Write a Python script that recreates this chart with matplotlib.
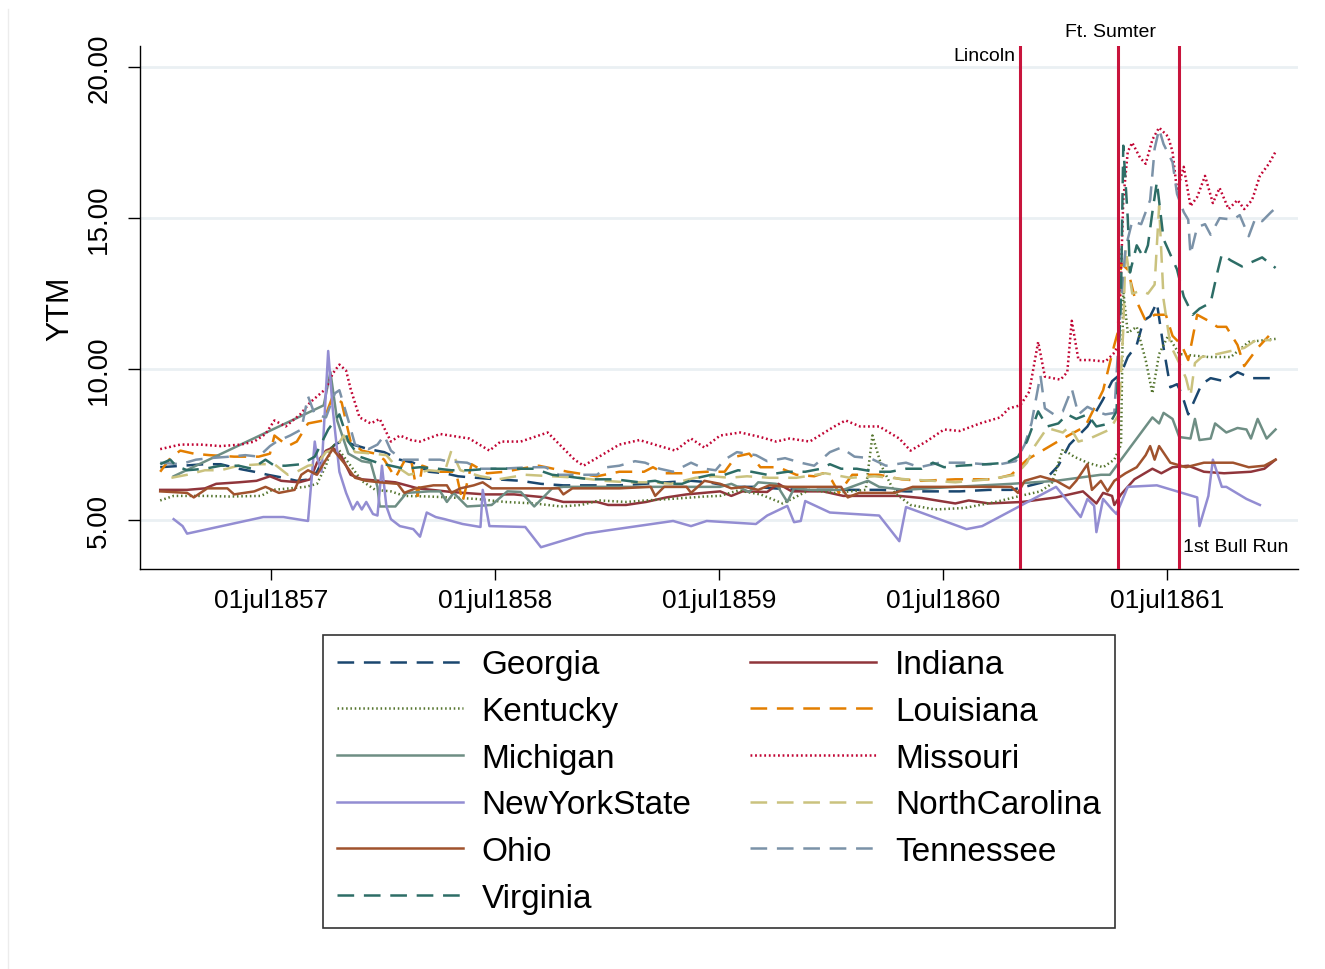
import matplotlib
matplotlib.use('Agg')
import matplotlib.pyplot as plt
from matplotlib.lines import Line2D

plt.rcParams['font.family'] = ['Liberation Sans', 'DejaVu Sans']
plt.rcParams['lines.scale_dashes'] = False

# dates as decimal years, YTM values
georgia_t = [1857.00, 1857.10, 1857.20, 1857.27, 1857.35, 1857.42, 1857.48, 1857.55, 1857.61, 1857.67,
             1857.70, 1857.74, 1857.78, 1857.82, 1857.86, 1857.93, 1858.00, 1858.07, 1858.13, 1858.20,
             1858.27, 1858.33, 1858.41, 1858.50, 1858.61, 1858.70, 1858.80, 1858.93, 1859.05, 1859.16,
             1859.26, 1859.37, 1859.45, 1859.55, 1859.65, 1859.74, 1859.85, 1859.97, 1860.10, 1860.22,
             1860.33, 1860.45, 1860.57, 1860.70, 1860.80, 1860.86, 1860.94, 1861.01, 1861.06, 1861.14,
             1861.21, 1861.25, 1861.29, 1861.32, 1861.36, 1861.39, 1861.42, 1861.45, 1861.48, 1861.51,
             1861.54, 1861.56, 1861.59, 1861.62, 1861.65, 1861.69, 1861.75, 1861.81, 1861.87, 1861.98]
georgia_y = [6.75, 6.8, 6.85, 6.85, 6.7, 6.6, 6.5, 6.4, 6.3, 6.35,
             6.6, 7.2, 7.5, 7.65, 7.5, 7.35, 7.25, 7.0, 6.9, 6.6,
             6.55, 6.45, 6.4, 6.35, 6.3, 6.2, 6.15, 6.15, 6.15, 6.2,
             6.25, 6.3, 6.25, 6.1, 6.1, 6.05, 6.0, 6.0, 6.0, 6.0,
             5.95, 5.95, 5.95, 6.0, 6.0, 6.1, 6.25, 6.8, 7.5, 8.1,
             9.0, 9.6, 9.85, 10.4, 10.8, 11.6, 11.75, 12.2, 10.7, 9.4,
             9.5, 9.2, 8.5, 9.0, 9.5, 9.7, 9.6, 9.9, 9.7, 9.7]

indiana_t = [1857.00, 1857.12, 1857.20, 1857.25, 1857.35, 1857.43, 1857.49, 1857.54, 1857.62, 1857.67,
             1857.70, 1857.74, 1857.77, 1857.81, 1857.85, 1857.90, 1857.98, 1858.05, 1858.15, 1858.30,
             1858.45, 1858.58, 1858.72, 1858.80, 1858.95, 1859.00, 1859.08, 1859.17, 1859.26, 1859.35,
             1859.50, 1859.55, 1859.60, 1859.71, 1859.76, 1859.82, 1859.96, 1860.05, 1860.30, 1860.40,
             1860.55, 1860.61, 1860.70, 1860.85, 1861.00, 1861.12, 1861.18, 1861.21, 1861.25, 1861.26,
             1861.29, 1861.35, 1861.43, 1861.47, 1861.52, 1861.59, 1861.66, 1861.75, 1861.87, 1861.93,
             1861.98]
indiana_y = [6.0, 6.0, 6.05, 6.2, 6.25, 6.3, 6.45, 6.3, 6.25, 6.35,
             6.9, 7.3, 7.4, 7.1, 6.5, 6.35, 6.3, 6.25, 6.05, 5.93,
             5.85, 5.85, 5.75, 5.6, 5.6, 5.5, 5.5, 5.6, 5.75, 5.85,
             5.95, 5.8, 5.95, 5.93, 6.2, 5.95, 5.95, 5.8, 5.8, 5.73,
             5.55, 5.65, 5.55, 5.6, 5.75, 5.95, 5.55, 5.9, 5.8, 5.5,
             5.85, 6.35, 6.7, 6.55, 6.75, 6.8, 6.6, 6.55, 6.6, 6.7,
             7.0]

kentucky_t = [1857.00, 1857.06, 1857.20, 1857.31, 1857.45, 1857.50, 1857.58, 1857.65, 1857.70, 1857.74,
              1857.77, 1857.80, 1857.84, 1857.90, 1857.96, 1858.03, 1858.09, 1858.20, 1858.29, 1858.41,
              1858.54, 1858.67, 1858.79, 1858.88, 1858.96, 1859.08, 1859.17, 1859.32, 1859.43, 1859.50,
              1859.58, 1859.68, 1859.78, 1859.90, 1860.01, 1860.15, 1860.18, 1860.22, 1860.28, 1860.35,
              1860.46, 1860.59, 1860.73, 1860.84, 1860.93, 1860.98, 1861.03, 1861.08, 1861.14, 1861.21,
              1861.26, 1861.29, 1861.30, 1861.32, 1861.36, 1861.40, 1861.43, 1861.46, 1861.50, 1861.55,
              1861.61, 1861.68, 1861.78, 1861.86, 1861.98]
kentucky_y = [5.65, 5.8, 5.8, 5.78, 5.8, 6.0, 6.05, 6.1, 6.2, 6.8,
              7.5, 7.3, 6.9, 6.3, 6.0, 5.95, 5.8, 5.78, 5.75, 5.7,
              5.6, 5.55, 5.45, 5.5, 5.65, 5.6, 5.65, 5.72, 5.78, 5.8,
              5.98, 5.85, 5.55, 6.0, 5.9, 6.0, 7.8, 6.8, 5.9, 5.5,
              5.35, 5.4, 5.6, 5.8, 5.95, 6.2, 7.35, 7.1, 6.9, 6.75,
              7.0, 7.5, 12.6, 11.2, 11.4, 10.3, 9.2, 10.5, 11.1, 10.5,
              10.45, 10.4, 10.4, 10.9, 11.0]

louisiana_t = [1857.00, 1857.05, 1857.09, 1857.15, 1857.22, 1857.33, 1857.44, 1857.49, 1857.51, 1857.57,
               1857.61, 1857.66, 1857.73, 1857.77, 1857.81, 1857.85, 1857.90, 1857.96, 1858.00, 1858.05,
               1858.09, 1858.12, 1858.15, 1858.17, 1858.25, 1858.32, 1858.35, 1858.39, 1858.46, 1858.54,
               1858.61, 1858.69, 1858.82, 1858.95, 1859.05, 1859.16, 1859.20, 1859.25, 1859.33, 1859.44,
               1859.52, 1859.57, 1859.63, 1859.68, 1859.76, 1859.84, 1859.92, 1859.96, 1860.00, 1860.03,
               1860.09, 1860.21, 1860.31, 1860.40, 1860.55, 1860.72, 1860.80, 1860.87, 1860.95, 1861.03,
               1861.13, 1861.21, 1861.26, 1861.275, 1861.29, 1861.32, 1861.35, 1861.40, 1861.44, 1861.49,
               1861.52, 1861.56, 1861.59, 1861.63, 1861.68, 1861.72, 1861.76, 1861.81, 1861.84, 1861.90,
               1861.95]
louisiana_y = [6.6, 7.1, 7.3, 7.2, 7.15, 7.1, 7.1, 7.2, 7.8, 7.45,
               7.6, 8.2, 8.3, 9.1, 8.9, 7.6, 7.3, 7.2, 7.0, 6.4,
               6.95, 7.0, 5.8, 6.8, 6.6, 6.6, 5.6, 6.85, 6.55, 6.6,
               6.7, 6.8, 6.6, 6.45, 6.6, 6.6, 6.75, 6.55, 6.55, 6.6,
               6.6, 7.1, 7.2, 6.75, 6.75, 6.5, 6.45, 6.55, 6.3, 5.9,
               6.5, 6.5, 6.35, 6.3, 6.35, 6.35, 6.5, 7.0, 7.35, 7.7,
               8.1, 9.3, 10.8, 11.2, 13.5, 13.3, 12.4, 11.6, 11.8, 11.8,
               11.1, 10.8, 10.3, 11.8, 11.6, 11.4, 11.4, 10.8, 10.1, 10.7,
               11.1]

michigan_t = [1857.06, 1857.73, 1857.76, 1857.79, 1857.84, 1857.90, 1857.94, 1857.97, 1857.98, 1858.05,
              1858.10, 1858.20, 1858.25, 1858.28, 1858.31, 1858.37, 1858.48, 1858.55, 1858.61, 1858.67,
              1858.75, 1858.80, 1859.50, 1859.55, 1859.63, 1859.67, 1859.75, 1859.80, 1859.83, 1859.90,
              1860.05, 1860.16, 1860.21, 1860.32, 1860.55, 1860.80, 1861.00, 1861.20, 1861.24, 1861.43,
              1861.46, 1861.48, 1861.52, 1861.55, 1861.60, 1861.62, 1861.64, 1861.69, 1861.71, 1861.76,
              1861.81, 1861.85, 1861.87, 1861.90, 1861.94, 1861.98]
michigan_y = [6.45, 8.8, 9.9, 8.3, 7.2, 6.95, 6.9, 6.1, 5.45, 5.45,
              5.9, 5.95, 5.95, 5.6, 5.9, 5.45, 5.5, 5.95, 5.93, 5.45,
              6.05, 6.1, 6.1, 6.2, 5.93, 6.25, 6.2, 5.6, 6.05, 6.0,
              6.0, 6.3, 6.1, 6.0, 6.1, 6.2, 6.3, 6.5, 6.5, 8.4,
              8.2, 8.55, 8.35, 7.75, 7.7, 8.35, 7.65, 7.7, 8.2, 7.9,
              8.05, 8.0, 7.7, 8.35, 7.7, 8.0]

missouri_t = [1857.00, 1857.09, 1857.18, 1857.27, 1857.36, 1857.42, 1857.47, 1857.51, 1857.56, 1857.625,
              1857.67, 1857.74, 1857.77, 1857.80, 1857.83, 1857.85, 1857.89, 1857.94, 1857.98, 1858.03,
              1858.07, 1858.12, 1858.16, 1858.25, 1858.38, 1858.47, 1858.52, 1858.61, 1858.73, 1858.79,
              1858.85, 1858.89, 1858.96, 1859.05, 1859.14, 1859.23, 1859.30, 1859.37, 1859.43, 1859.50,
              1859.59, 1859.68, 1859.75, 1859.81, 1859.90, 1860.01, 1860.06, 1860.125, 1860.21, 1860.30,
              1860.35, 1860.42, 1860.50, 1860.57, 1860.66, 1860.75, 1860.79, 1860.84, 1860.88, 1860.92,
              1860.95, 1861.02, 1861.05, 1861.07, 1861.10, 1861.15, 1861.22, 1861.255, 1861.28, 1861.30,
              1861.32, 1861.34, 1861.375, 1861.40, 1861.43, 1861.46, 1861.50, 1861.52, 1861.54, 1861.57,
              1861.60, 1861.63, 1861.665, 1861.70, 1861.73, 1861.77, 1861.81, 1861.84, 1861.875, 1861.91,
              1861.95, 1861.98]
missouri_y = [7.35, 7.5, 7.5, 7.45, 7.5, 7.6, 7.85, 8.3, 8.1, 8.5,
              8.9, 9.35, 9.85, 10.15, 9.95, 9.35, 8.4, 8.2, 8.35, 7.6,
              7.8, 7.65, 7.6, 7.85, 7.7, 7.3, 7.6, 7.6, 7.9, 7.45,
              7.0, 6.8, 7.1, 7.5, 7.65, 7.45, 7.3, 7.7, 7.4, 7.8,
              7.9, 7.75, 7.6, 7.7, 7.6, 8.1, 8.3, 8.1, 8.1, 7.7,
              7.3, 7.6, 8.0, 7.95, 8.2, 8.4, 8.7, 8.8, 9.25, 10.9,
              9.75, 9.65, 9.9, 11.6, 10.3, 10.3, 10.25, 10.5, 10.8, 15.6,
              17.2, 17.5, 17.0, 16.8, 17.6, 18.0, 17.7, 17.2, 15.9, 16.7,
              15.4, 15.7, 16.4, 15.5, 16.0, 15.3, 15.6, 15.3, 15.6, 16.4,
              16.8, 17.2]

newyork_t = [1857.06, 1857.10, 1857.12, 1857.46, 1857.55, 1857.66, 1857.69, 1857.70, 1857.72, 1857.75,
             1857.77, 1857.80, 1857.83, 1857.86, 1857.88, 1857.90, 1857.92, 1857.95, 1857.97, 1857.99,
             1858.01, 1858.03, 1858.07, 1858.13, 1858.16, 1858.19, 1858.23, 1858.27, 1858.35, 1858.43,
             1858.44, 1858.47, 1858.63, 1858.70, 1858.90, 1858.99, 1859.29, 1859.37, 1859.44, 1859.66,
             1859.71, 1859.80, 1859.83, 1859.86, 1859.88, 1859.99, 1860.21, 1860.30, 1860.33, 1860.60,
             1860.67, 1861.00, 1861.11, 1861.14, 1861.17, 1861.18, 1861.21, 1861.25, 1861.27, 1861.32,
             1861.45, 1861.63, 1861.64, 1861.68, 1861.70, 1861.74, 1861.76, 1861.85, 1861.91]
newyork_y = [5.03, 4.8, 4.55, 5.1, 5.1, 4.97, 7.6, 7.1, 6.6, 10.6,
             8.7, 6.6, 5.9, 5.35, 5.6, 5.35, 5.6, 5.2, 5.15, 6.8,
             5.45, 5.03, 4.8, 4.7, 4.45, 5.25, 5.1, 5.03, 4.87, 4.77,
             6.0, 4.8, 4.77, 4.1, 4.55, 4.65, 4.97, 4.8, 4.97, 4.87,
             5.15, 5.47, 4.93, 4.97, 5.63, 5.25, 5.15, 4.3, 5.43, 4.7,
             4.8, 6.1, 5.1, 5.7, 5.47, 4.6, 5.7, 5.35, 5.2, 6.1,
             6.15, 5.75, 4.8, 5.8, 7.0, 6.1, 6.1, 5.7, 5.5]

ncarolina_t = [1857.05, 1857.12, 1857.20, 1857.27, 1857.35, 1857.45, 1857.51, 1857.57, 1857.61, 1857.66,
               1857.70, 1857.74, 1857.78, 1857.82, 1857.87, 1857.95, 1858.01, 1858.05, 1858.11, 1858.20,
               1858.27, 1858.30, 1858.34, 1858.43, 1858.51, 1858.63, 1858.75, 1858.87, 1858.98, 1859.09,
               1859.20, 1859.28, 1859.39, 1859.47, 1859.54, 1859.62, 1859.72, 1859.84, 1859.97, 1860.08,
               1860.19, 1860.33, 1860.45, 1860.55, 1860.70, 1860.82, 1860.87, 1860.90, 1860.96, 1861.03,
               1861.06, 1861.10, 1861.15, 1861.24, 1861.28, 1861.30, 1861.31, 1861.34, 1861.38, 1861.41,
               1861.44, 1861.46, 1861.48, 1861.51, 1861.55, 1861.58, 1861.60, 1861.62, 1861.65, 1861.72,
               1861.78, 1861.84, 1861.90, 1861.96]
ncarolina_y = [6.4, 6.5, 6.65, 6.65, 6.8, 6.85, 6.85, 6.5, 6.6, 6.8,
               6.85, 7.25, 7.35, 7.8, 7.25, 7.2, 7.15, 6.8, 6.5, 6.65,
               6.6, 7.3, 6.65, 6.45, 6.35, 6.5, 6.45, 6.4, 6.3, 6.25,
               6.25, 6.2, 6.4, 6.45, 6.4, 6.45, 6.4, 6.4, 6.55, 6.4,
               6.45, 6.35, 6.3, 6.25, 6.35, 6.5, 6.9, 7.4, 8.05, 7.9,
               8.1, 7.6, 7.7, 8.0, 8.5, 11.3, 14.0, 12.5, 12.6, 12.5,
               12.8, 15.4, 12.3, 10.8, 10.2, 9.7, 9.1, 10.2, 10.4, 10.5,
               10.6, 10.7, 11.0, 10.95]

ohio_t = [1857.00, 1857.12, 1857.15, 1857.21, 1857.30, 1857.33, 1857.42, 1857.47, 1857.53, 1857.60,
          1857.63, 1857.66, 1857.70, 1857.74, 1857.77, 1857.82, 1857.87, 1857.92, 1857.98, 1858.06,
          1858.09, 1858.14, 1858.22, 1858.28, 1858.30, 1858.34, 1858.40, 1858.44, 1858.48, 1858.60,
          1858.78, 1858.80, 1858.84, 1859.05, 1859.19, 1859.21, 1859.25, 1859.35, 1859.37, 1859.43,
          1859.50, 1859.55, 1859.61, 1859.67, 1859.72, 1859.80, 1860.04, 1860.07, 1860.12, 1860.28,
          1860.36, 1860.80, 1860.83, 1860.86, 1860.93, 1861.00, 1861.06, 1861.09, 1861.14, 1861.16,
          1861.20, 1861.23, 1861.26, 1861.31, 1861.36, 1861.40, 1861.42, 1861.44, 1861.46, 1861.51,
          1861.58, 1861.66, 1861.79, 1861.86, 1861.93, 1861.98]
ohio_y = [5.95, 5.9, 5.75, 6.05, 6.05, 5.85, 5.95, 6.1, 5.9, 6.0,
          6.5, 6.65, 6.5, 7.0, 7.35, 6.9, 6.4, 6.3, 6.25, 6.2,
          5.9, 6.05, 6.15, 6.15, 5.9, 6.05, 6.15, 6.25, 6.05, 6.05,
          6.05, 5.85, 6.05, 6.05, 6.1, 5.8, 6.1, 6.1, 5.9, 6.3,
          6.2, 6.05, 6.1, 6.0, 6.15, 6.1, 6.1, 5.75, 5.9, 5.9,
          6.1, 6.1, 5.9, 6.3, 6.45, 6.3, 6.05, 6.3, 6.85, 6.0,
          6.3, 5.95, 6.3, 6.55, 6.75, 7.15, 7.45, 7.0, 7.45, 6.9,
          6.75, 6.9, 6.9, 6.75, 6.8, 7.0]

tennessee_t = [1857.00, 1857.09, 1857.16, 1857.22, 1857.31, 1857.38, 1857.44, 1857.49, 1857.52, 1857.58,
               1857.63, 1857.66, 1857.69, 1857.74, 1857.78, 1857.80, 1857.84, 1857.87, 1857.93, 1857.97,
               1858.00, 1858.03, 1858.08, 1858.16, 1858.25, 1858.28, 1858.37, 1858.43, 1858.52, 1858.65,
               1858.72, 1858.78, 1858.85, 1858.95, 1858.995, 1859.05, 1859.12, 1859.165, 1859.23, 1859.29,
               1859.37, 1859.43, 1859.48, 1859.52, 1859.575, 1859.66, 1859.71, 1859.79, 1859.86, 1859.92,
               1859.99, 1860.04, 1860.10, 1860.17, 1860.24, 1860.33, 1860.39, 1860.48, 1860.59, 1860.68,
               1860.75, 1860.82, 1860.86, 1860.89, 1860.93, 1860.95, 1860.99, 1861.03, 1861.07, 1861.10,
               1861.14, 1861.18, 1861.22, 1861.26, 1861.29, 1861.31, 1861.34, 1861.38, 1861.42, 1861.44,
               1861.46, 1861.48, 1861.52, 1861.54, 1861.57, 1861.59, 1861.60, 1861.63, 1861.665, 1861.69,
               1861.73, 1861.79, 1861.82, 1861.86, 1861.89, 1861.92, 1861.96, 1861.99]
tennessee_y = [6.9, 6.85, 7.0, 7.05, 7.1, 7.15, 7.1, 7.45, 7.6, 7.8,
               8.0, 9.1, 8.5, 8.4, 9.2, 9.3, 8.3, 7.5, 7.35, 7.5,
               7.8, 7.3, 7.0, 7.0, 7.0, 6.95, 6.9, 6.7, 6.7, 6.75,
               6.75, 6.5, 6.5, 6.5, 6.75, 6.8, 6.95, 6.9, 6.7, 6.6,
               6.9, 6.7, 6.65, 7.0, 7.25, 7.15, 6.95, 7.05, 6.9, 6.8,
               7.25, 7.4, 7.1, 7.05, 6.8, 6.9, 6.75, 6.9, 6.9, 6.85,
               6.85, 6.95, 7.5, 8.2, 9.8, 8.7, 8.5, 8.6, 9.35, 8.5,
               8.75, 8.6, 8.5, 8.55, 12.3, 14.0, 14.9, 14.8, 15.6, 17.3,
               17.95, 17.45, 16.85, 15.8, 15.2, 14.95, 13.8, 14.7, 14.8, 14.45,
               15.0, 14.95, 15.1, 14.4, 15.0, 14.9, 15.2, 15.4]

virginia_t = [1857.00, 1857.045, 1857.07, 1857.12, 1857.20, 1857.27, 1857.35, 1857.41, 1857.47, 1857.51,
              1857.56, 1857.63, 1857.69, 1857.75, 1857.80, 1857.84, 1857.89, 1857.93, 1857.97, 1858.03,
              1858.09, 1858.16, 1858.24, 1858.30, 1858.38, 1858.47, 1858.56, 1858.67, 1858.75, 1858.81,
              1858.92, 1859.03, 1859.14, 1859.21, 1859.26, 1859.33, 1859.40, 1859.46, 1859.52, 1859.58,
              1859.64, 1859.71, 1859.80, 1859.88, 1859.95, 1859.99, 1860.04, 1860.11, 1860.19, 1860.26,
              1860.33, 1860.40, 1860.45, 1860.50, 1860.57, 1860.69, 1860.78, 1860.83, 1860.87, 1860.92,
              1860.96, 1861.01, 1861.05, 1861.09, 1861.14, 1861.18, 1861.24, 1861.27, 1861.29, 1861.30,
              1861.32, 1861.33, 1861.36, 1861.39, 1861.41, 1861.43, 1861.45, 1861.48, 1861.54, 1861.57,
              1861.61, 1861.64, 1861.69, 1861.72, 1861.74, 1861.78, 1861.83, 1861.92, 1861.98]
virginia_y = [6.85, 7.0, 6.8, 6.65, 6.7, 6.8, 6.8, 6.7, 7.0, 6.8,
              6.8, 6.85, 7.1, 8.0, 8.5, 7.6, 7.1, 7.0, 6.9, 6.8,
              6.7, 6.75, 6.7, 6.65, 6.65, 6.7, 6.7, 6.7, 6.5, 6.45,
              6.35, 6.35, 6.25, 6.3, 6.2, 6.2, 6.4, 6.5, 6.5, 6.65,
              6.6, 6.5, 6.6, 6.6, 6.7, 6.85, 6.7, 6.7, 6.6, 6.6,
              6.7, 6.7, 6.9, 6.75, 6.8, 6.85, 6.9, 7.1, 7.6, 8.6,
              8.1, 8.2, 8.5, 8.35, 8.5, 8.1, 8.2, 8.6, 12.5, 17.4,
              15.0, 13.2, 14.1, 13.7, 14.1, 15.2, 16.2, 14.3, 13.3, 12.4,
              11.8, 12.0, 12.2, 13.2, 13.8, 13.6, 13.4, 13.7, 13.35]

events = [1860.84, 1861.277, 1861.548]
event_labels = ['Lincoln', 'Ft. Sumter', '1st Bull Run']

xtick_pos = [1857.496, 1858.496, 1859.496, 1860.496, 1861.496]
xtick_labels = ['01jul1857', '01jul1858', '01jul1859', '01jul1860', '01jul1861']
ytick_pos = [5, 10, 15, 20]
ytick_labels = ['5.00', '10.00', '15.00', '20.00']

long_dash = (0, (12, 7))
dots = (0, (1.1, 2.0))

series = [
    ('Georgia', georgia_t, georgia_y, '#1a476f', long_dash),
    ('Indiana', indiana_t, indiana_y, '#90353b', '-'),
    ('Kentucky', kentucky_t, kentucky_y, '#55752f', dots),
    ('Louisiana', louisiana_t, louisiana_y, '#e37e00', long_dash),
    ('Michigan', michigan_t, michigan_y, '#6e8e84', '-'),
    ('Missouri', missouri_t, missouri_y, '#c10534', (0, (1.3, 2.0))),
    ('NewYorkState', newyork_t, newyork_y, '#938dd2', '-'),
    ('NorthCarolina', ncarolina_t, ncarolina_y, '#cac27e', long_dash),
    ('Ohio', ohio_t, ohio_y, '#a0522d', '-'),
    ('Tennessee', tennessee_t, tennessee_y, '#7b92a8', long_dash),
    ('Virginia', virginia_t, virginia_y, '#2d6d66', long_dash),
]

fig = plt.figure(figsize=(13.25, 9.7), dpi=100)
ax = fig.add_axes([0.1057, 0.4124, 0.8739, 0.5391])

for y in ytick_pos:
    ax.axhline(y, color='#eaf0f3', lw=2.0, zorder=0)

handles = []
for name, t, v, c, ls in series:
    h, = ax.plot(t, v, color=c, linestyle=ls, lw=1.8, label=name)
    handles.append(h)

for e in events:
    ax.axvline(e, color='#c8143c', lw=2.2, zorder=3)

ax.text(events[0] - 0.02, 20.40, event_labels[0], ha='right', va='center', fontsize=14)
ax.text(events[1] - 0.035, 21.19, event_labels[1], ha='center', va='center', fontsize=14,
        clip_on=False)
ax.text(events[2] + 0.02, 4.11, event_labels[2], ha='left', va='center', fontsize=14)

ax.set_xlim(1856.91, 1862.08)
ax.set_ylim(3.38, 20.70)
ax.set_xticks(xtick_pos)
ax.set_xticklabels(xtick_labels, fontsize=19)
ax.set_yticks(ytick_pos)
ax.set_yticklabels(ytick_labels, fontsize=20, rotation=90, va='center')
ax.tick_params(axis='y', length=9, width=1.0, pad=11)
ax.tick_params(axis='x', length=8, width=1.0, pad=6)
ax.set_ylabel('YTM', fontsize=22, labelpad=8)

for s in ['top', 'right']:
    ax.spines[s].set_visible(False)
for s in ['left', 'bottom']:
    ax.spines[s].set_linewidth(1.0)

# legend is filled row by row, two columns
order = [0, 2, 4, 6, 8, 10, 1, 3, 5, 7, 9]
leg = fig.legend([handles[i] for i in order], [series[i][0] for i in order],
                 loc='center', bbox_to_anchor=(0.5423, 0.1933), ncol=2, fontsize=24,
                 frameon=True, fancybox=False, edgecolor='black', handlelength=3.8,
                 handletextpad=0.55, columnspacing=1.75, labelspacing=0.47, borderpad=0.42)
leg.get_frame().set_linewidth(1.2)

fig.add_artist(Line2D([8 / 1325, 8 / 1325], [0, 1 - 10 / 970], color='#ececec', lw=1.0))

fig.savefig('out.png', dpi=100)
